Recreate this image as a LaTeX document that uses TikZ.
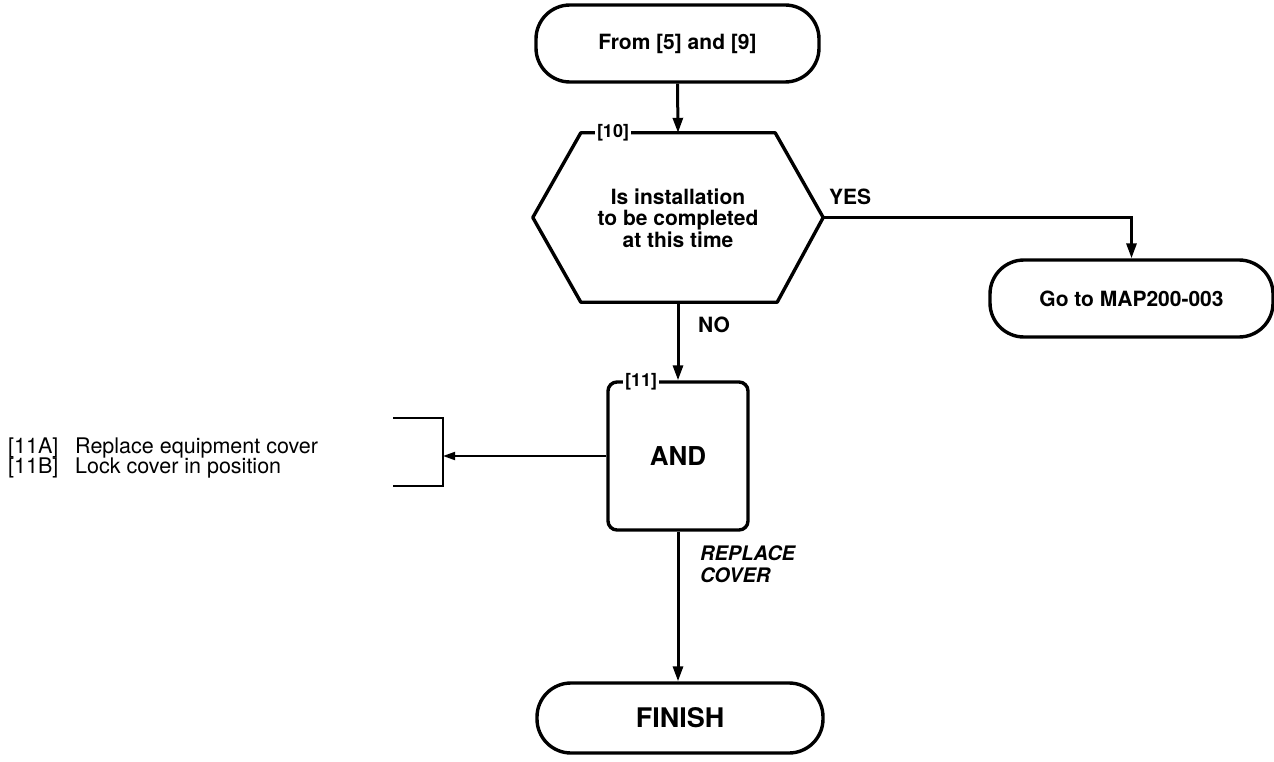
\documentclass[tikz,border=0pt]{standalone}
\usepackage{fontspec}
\setmainfont{TeX Gyre Heros}
\usetikzlibrary{arrows.meta}
\tikzset{
  term/.style={draw, line width=3.4pt, rounded corners=34pt, minimum width=283pt, minimum height=77pt, font=\fontsize{21}{22}\selectfont\bfseries, inner sep=0pt},
  conn/.style={line width=3pt, -{Triangle[length=15pt,width=10pt]}},
  thinconn/.style={line width=1.8pt, -{Triangle[length=12pt,width=8pt]}},
  lbl/.style={font=\fontsize{21}{22}\selectfont\bfseries, inner sep=0pt},
  tag/.style={font=\fontsize{18}{18}\selectfont\bfseries, fill=white, inner sep=2pt},
  item/.style={font=\fontsize{21.5}{21.5}\selectfont, inner sep=0pt, anchor=base west}
}
\begin{document}
\begin{tikzpicture}[x=1pt,y=-1pt]
\useasboundingbox (0,0) rectangle (1274,762);
% start terminal
\node[term] (start) at (677.5,43.5) {From [5] and [9]};
% decision hexagon
\node[minimum width=290pt, minimum height=169pt, inner sep=0pt] (q10) at (678,217.5) {};
\draw[line width=3.4pt, line join=round] (q10.west) -- ([xshift=48pt]q10.north west) -- ([xshift=-48pt]q10.north east) -- (q10.east) -- ([xshift=-46pt]q10.south east) -- ([xshift=48pt]q10.south west) -- cycle;
\node[lbl, align=center, font=\fontsize{21}{21.5}\selectfont\bfseries] (q10text) at (678,218) {Is installation\\to be completed\\at this time};
\node[tag] (t10) at (613,133) {[10]};
% go to terminal
\node[term] (goto) at (1131.5,298.5) {Go to MAP200-003};
% AND box
\node[draw, line width=3.4pt, rounded corners=9pt, minimum width=140pt, minimum height=148pt, font=\fontsize{26}{26}\selectfont\bfseries] (and) at (678,456) {AND};
\node[tag] (t11) at (641,382) {[11]};
% finish terminal
\node[term, minimum width=286pt, minimum height=70pt, font=\fontsize{27}{27}\selectfont\bfseries] (finish) at (680,718) {FINISH};
% bracket list
\coordinate (brk) at (443,456);
\coordinate (bt) at (443,418);
\coordinate (bb) at (443,486);
\coordinate (btl) at (393,418);
\coordinate (bbl) at (393,486);
\draw[line width=1.8pt] (btl) -- (bt) -- (bb) -- (bbl);
\node[item] (i11a) at (8,453) {[11A]};
\node[item] (i11at) at (75,453) {Replace equipment cover};
\node[item] (i11b) at (8,473) {[11B]};
\node[item] (i11bt) at (75,473) {Lock cover in position};
% connectors
\draw[conn] (start.south) -- (q10.north);
\draw[conn] (q10.east) -| (goto.north);
\draw[conn] (q10.south) -- (and.north);
\draw[thinconn] (and.west) -- (brk);
\draw[conn] (and.south) -- (and.south |- finish.north);
% labels
\node[lbl, anchor=west] (yes) at (829,197) {YES};
\node[lbl, anchor=west] (no) at (698,325) {NO};
\node[lbl, anchor=north west, align=left, font=\fontsize{20}{22}\selectfont\bfseries\itshape] (rc) at (700,545) {REPLACE\\COVER};
\end{tikzpicture}
\end{document}
